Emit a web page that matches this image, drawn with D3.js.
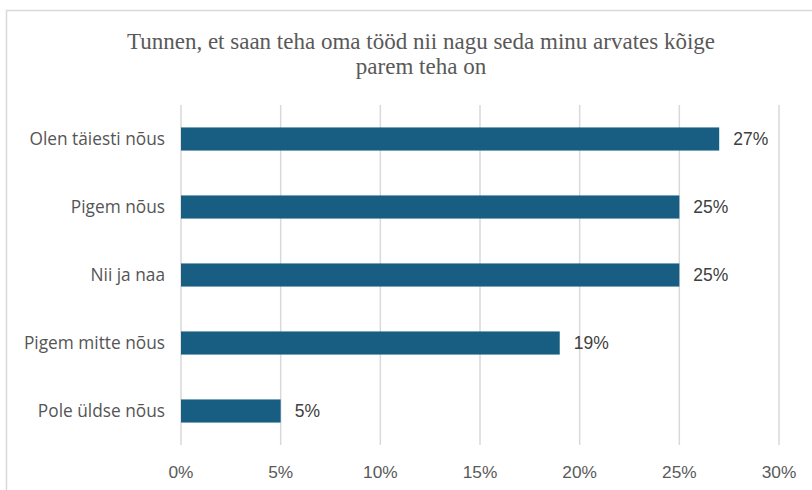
<!DOCTYPE html>
<html>
<head>
<meta charset="utf-8">
<script src="https://cdn.jsdelivr.net/npm/d3@7"></script>
<style>
  body { margin: 0; background: white; }
  svg { display: block; }
</style>
</head>
<body>
<svg width="812" height="490"></svg>
<script>
const categories = ["Olen täiesti nõus", "Pigem nõus", "Nii ja naa", "Pigem mitte nõus", "Pole üldse nõus"]
const values = [27, 25, 25, 19, 5]
const ticks = [0, 5, 10, 15, 20, 25, 30]
const titleLines = ["Tunnen, et saan teha oma tööd nii nagu seda minu arvates kõige", "parem teha on"]

const svg = d3.select("svg")
const width = +svg.attr("width")
const height = +svg.attr("height")

// chart frame (cut off on the right and bottom)
svg.append("rect")
    .attr("x", 6.5).attr("y", 10.5)
    .attr("width", 900).attr("height", 600)
    .attr("fill", "white")
    .attr("stroke", "#d9d9d9")
    .attr("stroke-width", 1.5)

const x = d3.scaleLinear().domain([0, 30]).range([181, 779])
const y = d3.scaleBand().domain(categories).range([105, 445]).paddingInner(0.66).paddingOuter(0.33)

svg.append("g")
    .selectAll("text")
    .data(titleLines)
    .join("text")
    .attr("x", 421)
    .attr("y", (d, i) => 49 + i * 25)
    .attr("text-anchor", "middle")
    .attr("font-family", "'Liberation Serif', 'Times New Roman', serif")
    .attr("font-size", 23)
    .attr("fill", "#595959")
    .text(d => d)

// grid
svg.append("g")
    .selectAll("line")
    .data(ticks)
    .join("line")
    .attr("x1", d => x(d)).attr("x2", d => x(d))
    .attr("y1", 105).attr("y2", 445)
    .attr("stroke", "#d9d9d9")
    .attr("stroke-width", 1.5)

svg.append("g")
    .selectAll("rect")
    .data(values)
    .join("rect")
    .attr("x", x(0))
    .attr("y", (d, i) => y(categories[i]))
    .attr("width", d => x(d) - x(0))
    .attr("height", y.bandwidth())
    .attr("fill", "#175e82")

svg.append("g")
    .selectAll("text")
    .data(values)
    .join("text")
    .attr("x", d => x(d) + 14)
    .attr("y", (d, i) => y(categories[i]) + y.bandwidth() / 2)
    .attr("dy", "0.35em")
    .attr("font-family", "'Liberation Sans', Arial, sans-serif")
    .attr("font-size", 17.5)
    .attr("fill", "#404040")
    .text(d => d + "%")

svg.append("g")
    .selectAll("text")
    .data(categories)
    .join("text")
    .attr("x", 165)
    .attr("y", d => y(d) + y.bandwidth() / 2)
    .attr("dy", "0.35em")
    .attr("text-anchor", "end")
    .attr("font-family", "'Open Sans', 'Noto Sans', sans-serif")
    .attr("font-size", 17.3)
    .attr("fill", "#555555")
    .text(d => d)

svg.append("g")
    .selectAll("text")
    .data(ticks)
    .join("text")
    .attr("x", d => x(d))
    .attr("y", 478)
    .attr("text-anchor", "middle")
    .attr("font-family", "'Liberation Sans', Arial, sans-serif")
    .attr("font-size", 17.3)
    .attr("fill", "#595959")
    .text(d => d + "%")
</script>
</body>
</html>
